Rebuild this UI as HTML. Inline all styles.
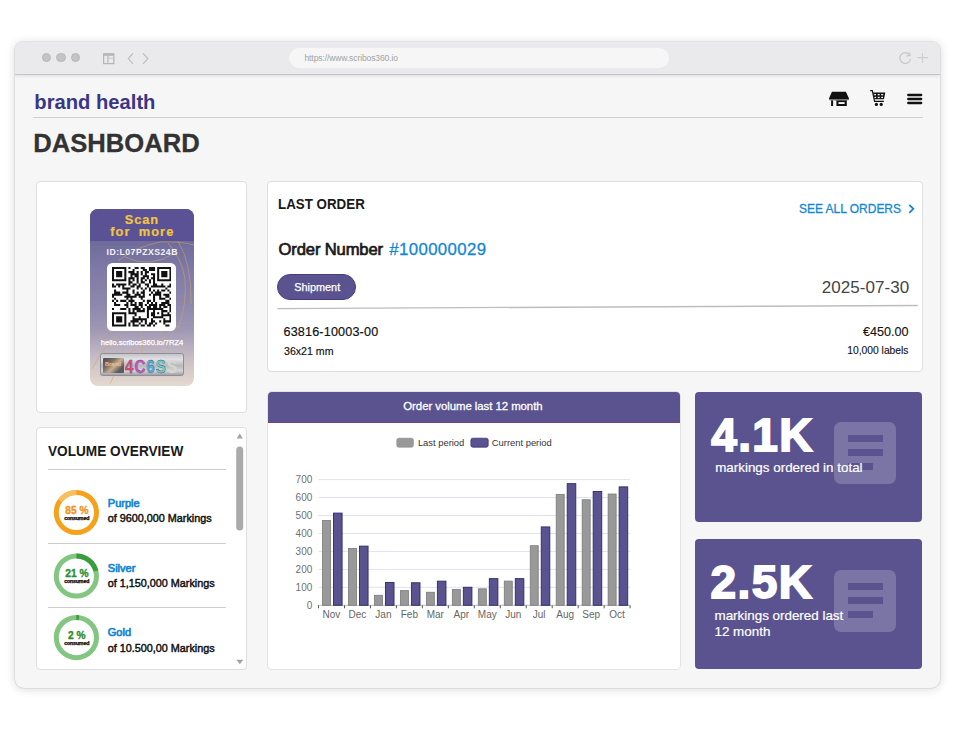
<!DOCTYPE html>
<html><head><meta charset="utf-8">
<style>
*{margin:0;padding:0;box-sizing:border-box}
html,body{width:955px;height:747px;overflow:hidden;background:#fff;font-family:"Liberation Sans",sans-serif}
.abs{position:absolute}
#win{position:absolute;left:15px;top:42px;width:925px;height:646px;border-radius:7px 7px 9px 9px;background:#f6f6f6;box-shadow:0 0 0 0.6px rgba(0,0,0,0.10),0 1px 10px rgba(0,0,0,0.17);overflow:hidden}
#bar{position:absolute;left:0;top:0;width:925px;height:33px;background:#eaeaec;border-bottom:1px solid #c6c6c8;box-shadow:0 1px 3px rgba(0,0,0,0.10)}
.dot{position:absolute;top:11px;width:9.4px;height:9.4px;border-radius:50%;background:#c3c3c3;border:0.6px solid #b8b8b8}
#url{position:absolute;left:273.7px;top:6px;width:380.5px;height:19.8px;border-radius:10px;background:#f6f6f7}
#url span{position:absolute;left:15.8px;top:4.6px;font-size:8.5px;color:#a3a3a3;letter-spacing:-0.1px}
.card{position:absolute;background:#fff;border:1px solid #dedede;border-radius:4px}
.t{position:absolute;white-space:nowrap;line-height:1}
.stat{position:absolute;background:#5b538f;border-radius:4px}
.ico{position:absolute;width:62px;height:62px;border-radius:7px;background:rgba(255,255,255,0.2)}
.ico i{position:absolute;left:14px;height:7px;background:#5b538f}
.big{position:absolute;font-weight:bold;color:#fff;font-size:46px;line-height:1;letter-spacing:1.4px;-webkit-text-stroke:1.8px #fff}
.sub{position:absolute;color:#fff;font-size:13.4px;line-height:16px;white-space:nowrap;-webkit-text-stroke:0.2px #fff}
</style></head><body>
<div id="win">
  <div id="bar">
    <div class="dot" style="left:26.5px"></div>
    <div class="dot" style="left:41.2px"></div>
    <div class="dot" style="left:55.9px"></div>
    <svg class="abs" style="left:87px;top:10px" width="13" height="13" viewBox="0 0 13 13"><rect x="1.6" y="1.8" width="10.2" height="9.8" fill="none" stroke="#b5b5b5" stroke-width="1.2"/><rect x="1.6" y="1.8" width="10.2" height="2" fill="#b5b5b5"/><line x1="5.9" y1="3.8" x2="5.9" y2="11.6" stroke="#b5b5b5" stroke-width="1.1"/><line x1="5.9" y1="6.2" x2="11.6" y2="6.2" stroke="#c5c5c5" stroke-width="0.8"/></svg>
    <svg class="abs" style="left:110px;top:10px" width="40" height="13" viewBox="0 0 40 13"><polyline points="8,1.4 3.3,6.6 8,11.8" fill="none" stroke="#bdbdbd" stroke-width="1.25"/><polyline points="18.1,1.4 22.8,6.6 18.1,11.8" fill="none" stroke="#bdbdbd" stroke-width="1.25"/></svg>
    <div id="url"><span>https://www.scribos360.io</span></div>
    <svg class="abs" style="left:883px;top:10px" width="32" height="13" viewBox="0 0 32 13"><path d="M11.4 2.6 A5.4 5.4 0 1 0 12.6 7" fill="none" stroke="#c6c6c6" stroke-width="1.2"/><polyline points="8.6,3.9 12,3.4 11.6,0.4" fill="none" stroke="#c6c6c6" stroke-width="1.2"/><line x1="24.5" y1="1" x2="24.5" y2="11" stroke="#cccccc" stroke-width="1.1"/><line x1="19.4" y1="5.6" x2="30" y2="5.6" stroke="#cccccc" stroke-width="1.1"/></svg>
  </div>
</div>

<!-- header -->
<div class="t" style="left:34.3px;top:91.7px;font-size:20.2px;font-weight:bold;color:#3b3683">brand health</div>
<div class="abs" style="left:33px;top:117px;width:890px;height:1px;background:#cfcfcf"></div>
<div class="t" style="left:33.3px;top:131.3px;font-size:25.6px;font-weight:bold;color:#333;-webkit-text-stroke:0.3px #333">DASHBOARD</div>

<!-- store icon -->
<svg class="abs" style="left:826px;top:88px" width="26" height="21" viewBox="826 88 26 21"><path d="M831.9 91.8 H845.9 L848.9 98.2 V99.6 H829.1 V98.2 Z" fill="#111"/><path d="M829.3 99.6 Q831.5 100.6 833.5 99.8 Q836 100.6 838.5 99.8 Q841 100.6 843.5 99.8 Q846 100.6 848.7 99.6" fill="none" stroke="#666" stroke-width="0.9"/><rect x="831.1" y="100.4" width="2" height="5.6" fill="#111"/><rect x="836.4" y="100.4" width="10.4" height="5.6" fill="#111"/><rect x="838.5" y="102.1" width="6.1" height="1.9" fill="#f6f6f6"/></svg>
<!-- cart icon -->
<svg class="abs" style="left:866px;top:86px" width="24" height="24" viewBox="866 86 24 24"><path d="M870.2 90.6 H872.3 L874.6 101.3 H883.9" fill="none" stroke="#111" stroke-width="1.2"/><path d="M873 92.6 H885.3 L884 99 H874.3 Z" fill="#111"/><g fill="#f6f6f6"><rect x="874.2" y="94" width="1.8" height="1.3"/><rect x="877.7" y="94" width="2" height="1.3"/><rect x="881.2" y="94" width="2" height="1.3"/><rect x="874.5" y="96.8" width="1.6" height="1.3"/><rect x="877.7" y="96.8" width="2" height="1.3"/><rect x="881.2" y="96.8" width="1.8" height="1.3"/></g><rect x="875.3" y="99" width="8.4" height="1.6" fill="#bbb"/><circle cx="876.4" cy="104.4" r="1.6" fill="#111"/><circle cx="881.2" cy="104.4" r="1.6" fill="#111"/></svg>
<!-- hamburger -->
<svg class="abs" style="left:907px;top:93px" width="16" height="12" viewBox="0 0 16 12"><g stroke="#111" stroke-width="2.3" stroke-linecap="round"><line x1="1.2" y1="2" x2="14.2" y2="2"/><line x1="1.2" y1="6" x2="14.2" y2="6"/><line x1="1.2" y1="10" x2="14.2" y2="10"/></g></svg>

<!-- QR card -->
<div class="card" style="left:35.6px;top:181.3px;width:211.6px;height:231.4px"></div>
<!--LABEL-->
<div class="abs" style="left:90.3px;top:209px;width:103.3px;height:176.6px;border-radius:8px;overflow:hidden;background:linear-gradient(180deg,#6d6899 0px,#706b9c 32px,#7f7aa5 60px,#8d88ad 95px,#9e97b4 120px,#b4abbd 135px,#cfc4c6 155px,#e4d9cf 176px)">
  <div class="abs" style="left:0;top:0;width:104px;height:31.5px;background:#5a5294"></div>
  <svg class="abs" style="left:0;top:0" width="104" height="177" viewBox="0 0 104 177"><g fill="none" stroke="#c9a867" stroke-width="0.8" opacity="0.7"><path d="M28 52 Q45 38 70 33 Q90 32 104 36"/><path d="M35 48 Q60 60 85 44"/><path d="M78 34 Q92 50 95 70 Q97 95 88 120"/><path d="M88 32 Q102 55 101 95"/><path d="M10 130 Q25 115 45 112 Q70 112 90 118"/><path d="M2 160 Q15 135 30 125"/><path d="M45 112 Q55 125 52 145"/><path d="M60 112 Q75 125 78 140"/><path d="M20 175 Q30 150 45 140"/></g></svg>
  <div class="t" style="left:0;width:103px;text-align:center;top:4.6px;font-size:12.8px;font-weight:bold;color:#f3c443;letter-spacing:0.9px;-webkit-text-stroke:0.2px #f3c443">Scan</div>
  <div class="t" style="left:0.5px;width:103px;text-align:center;top:16.8px;font-size:12.8px;font-weight:bold;color:#f3c443;letter-spacing:1.1px;word-spacing:3.5px;-webkit-text-stroke:0.2px #f3c443">for more</div>
  <div class="t" style="left:16.2px;top:39.2px;font-size:8.7px;font-weight:bold;color:#f4f2f7;letter-spacing:0.48px">ID:L07PZXS24B</div>
  <div class="abs" style="left:17.2px;top:53.5px;width:68.4px;height:68.3px;border-radius:5.5px;background:#fff"></div>
  <svg class="abs" style="left:21.7px;top:58.3px" width="59.5" height="59.5" viewBox="0 0 29 29"><path d="M0 0h7v1h-7zM8 0h1v1h-1zM11 0h2v1h-2zM14 0h2v1h-2zM18 0h3v1h-3zM22 0h7v1h-7zM0 1h1v1h-1zM6 1h1v1h-1zM10 1h1v1h-1zM15 1h2v1h-2zM18 1h3v1h-3zM22 1h1v1h-1zM28 1h1v1h-1zM0 2h1v1h-1zM2 2h3v1h-3zM6 2h1v1h-1zM8 2h3v1h-3zM12 2h1v1h-1zM14 2h1v1h-1zM16 2h2v1h-2zM22 2h1v1h-1zM24 2h3v1h-3zM28 2h1v1h-1zM0 3h1v1h-1zM2 3h3v1h-3zM6 3h1v1h-1zM9 3h4v1h-4zM14 3h1v1h-1zM16 3h1v1h-1zM19 3h2v1h-2zM22 3h1v1h-1zM24 3h3v1h-3zM28 3h1v1h-1zM0 4h1v1h-1zM2 4h3v1h-3zM6 4h1v1h-1zM9 4h1v1h-1zM11 4h2v1h-2zM15 4h3v1h-3zM20 4h1v1h-1zM22 4h1v1h-1zM24 4h3v1h-3zM28 4h1v1h-1zM0 5h1v1h-1zM6 5h1v1h-1zM8 5h3v1h-3zM12 5h1v1h-1zM14 5h2v1h-2zM17 5h1v1h-1zM19 5h2v1h-2zM22 5h1v1h-1zM28 5h1v1h-1zM0 6h7v1h-7zM8 6h1v1h-1zM10 6h1v1h-1zM12 6h1v1h-1zM14 6h1v1h-1zM16 6h1v1h-1zM18 6h1v1h-1zM20 6h1v1h-1zM22 6h7v1h-7zM8 7h2v1h-2zM12 7h1v1h-1zM14 7h2v1h-2zM18 7h1v1h-1zM20 7h1v1h-1zM0 8h1v1h-1zM2 8h5v1h-5zM8 8h1v1h-1zM10 8h2v1h-2zM13 8h1v1h-1zM16 8h2v1h-2zM20 8h2v1h-2zM24 8h1v1h-1zM28 8h1v1h-1zM0 9h2v1h-2zM3 9h1v1h-1zM5 9h1v1h-1zM9 9h2v1h-2zM12 9h2v1h-2zM17 9h1v1h-1zM19 9h7v1h-7zM27 9h2v1h-2zM5 10h4v1h-4zM12 10h1v1h-1zM14 10h1v1h-1zM16 10h1v1h-1zM18 10h1v1h-1zM26 10h1v1h-1zM1 11h1v1h-1zM7 11h1v1h-1zM10 11h1v1h-1zM15 11h1v1h-1zM18 11h1v1h-1zM20 11h1v1h-1zM22 11h1v1h-1zM24 11h2v1h-2zM27 11h1v1h-1zM1 12h3v1h-3zM5 12h3v1h-3zM10 12h1v1h-1zM12 12h1v1h-1zM14 12h2v1h-2zM19 12h1v1h-1zM21 12h3v1h-3zM28 12h1v1h-1zM0 13h5v1h-5zM7 13h2v1h-2zM11 13h3v1h-3zM15 13h1v1h-1zM18 13h1v1h-1zM20 13h4v1h-4zM25 13h3v1h-3zM0 14h1v1h-1zM6 14h6v1h-6zM13 14h3v1h-3zM20 14h1v1h-1zM23 14h1v1h-1zM26 14h2v1h-2zM1 15h1v1h-1zM7 15h1v1h-1zM9 15h1v1h-1zM14 15h1v1h-1zM20 15h1v1h-1zM23 15h3v1h-3zM28 15h1v1h-1zM0 16h1v1h-1zM2 16h1v1h-1zM4 16h3v1h-3zM8 16h3v1h-3zM15 16h1v1h-1zM17 16h2v1h-2zM20 16h1v1h-1zM26 16h2v1h-2zM1 17h1v1h-1zM7 17h1v1h-1zM9 17h1v1h-1zM11 17h1v1h-1zM13 17h2v1h-2zM17 17h1v1h-1zM19 17h1v1h-1zM21 17h1v1h-1zM24 17h4v1h-4zM1 18h3v1h-3zM6 18h2v1h-2zM9 18h3v1h-3zM13 18h2v1h-2zM16 18h1v1h-1zM18 18h4v1h-4zM23 18h3v1h-3zM27 18h2v1h-2zM7 19h1v1h-1zM11 19h2v1h-2zM14 19h1v1h-1zM17 19h2v1h-2zM20 19h2v1h-2zM23 19h1v1h-1zM25 19h2v1h-2zM28 19h1v1h-1zM0 20h1v1h-1zM4 20h3v1h-3zM8 20h1v1h-1zM10 20h4v1h-4zM15 20h1v1h-1zM17 20h8v1h-8zM28 20h1v1h-1zM8 21h1v1h-1zM10 21h1v1h-1zM12 21h4v1h-4zM17 21h1v1h-1zM20 21h1v1h-1zM24 21h3v1h-3zM28 21h1v1h-1zM0 22h7v1h-7zM8 22h4v1h-4zM17 22h1v1h-1zM19 22h2v1h-2zM22 22h1v1h-1zM24 22h1v1h-1zM27 22h1v1h-1zM0 23h1v1h-1zM6 23h1v1h-1zM11 23h1v1h-1zM17 23h1v1h-1zM19 23h2v1h-2zM24 23h5v1h-5zM0 24h1v1h-1zM2 24h3v1h-3zM6 24h1v1h-1zM10 24h1v1h-1zM13 24h1v1h-1zM17 24h1v1h-1zM20 24h5v1h-5zM28 24h1v1h-1zM0 25h1v1h-1zM2 25h3v1h-3zM6 25h1v1h-1zM10 25h7v1h-7zM19 25h1v1h-1zM25 25h1v1h-1zM28 25h1v1h-1zM0 26h1v1h-1zM2 26h3v1h-3zM6 26h1v1h-1zM9 26h4v1h-4zM14 26h1v1h-1zM16 26h1v1h-1zM19 26h2v1h-2zM23 26h1v1h-1zM25 26h4v1h-4zM0 27h1v1h-1zM6 27h1v1h-1zM8 27h1v1h-1zM10 27h1v1h-1zM13 27h1v1h-1zM16 27h1v1h-1zM18 27h2v1h-2zM21 27h1v1h-1zM25 27h1v1h-1zM0 28h7v1h-7zM8 28h1v1h-1zM10 28h3v1h-3zM14 28h2v1h-2zM17 28h2v1h-2zM20 28h1v1h-1zM26 28h2v1h-2z" fill="#111"/></svg>
  <div class="t" style="left:10.5px;top:129.8px;font-size:7.6px;color:#fff;letter-spacing:-0.05px;-webkit-text-stroke:0.25px #fff">hello.scribos360.io/7RZ4</div>
  <div class="abs" style="left:9.7px;top:144.4px;width:83.6px;height:23px;border-radius:2.5px;background:linear-gradient(180deg,#c4c4c8 0%,#e2e2e6 25%,#b8b8be 55%,#d4d4d8 80%,#a0a0a6 100%);border:1px solid #8e8e94">
    <div class="abs" style="left:1.8px;top:3.5px;width:21px;height:15px;background:linear-gradient(135deg,#4a4a50,#7a7068 35%,#c8ae90 55%,#5a5a60 80%);border-radius:1px"></div>
    <div class="t" style="left:4px;top:8px;font-size:5.5px;font-weight:bold;color:#f2c08e">Brand</div>
    <div class="t" style="left:23.8px;top:2.3px;font-size:19px;font-weight:bold;letter-spacing:1.2px;-webkit-text-stroke:0.4px #555;transform:scaleX(0.8);transform-origin:0 0"><span style="color:#ee4a80">4</span><span style="color:#d24fd0">C</span><span style="color:#4fb2ea">6</span><span style="color:#60d2d4">S</span><span style="color:#d2d8cc;-webkit-text-stroke:0">S</span></div>
  </div>
</div>
<!--/LABEL-->

<!-- Order card -->
<div class="card" style="left:266.8px;top:181.2px;width:656.6px;height:190.5px"></div>
<div class="t" style="left:278.4px;top:196.1px;font-size:15px;font-weight:bold;color:#1a1a1a;transform:scaleX(0.89);transform-origin:0 0">LAST ORDER</div>
<div class="t" style="left:799px;top:202.4px;font-size:13.3px;color:#1386d6;letter-spacing:0;-webkit-text-stroke:0.3px #1386d6;transform:scaleX(0.9);transform-origin:0 0">SEE ALL ORDERS</div>
<svg class="abs" style="left:907.5px;top:203.5px" width="7" height="10" viewBox="0 0 7 10"><polyline points="1.3,0.8 5.3,4.8 1.3,8.8" fill="none" stroke="#1a88d2" stroke-width="1.9"/></svg>
<div class="t" style="left:278.6px;top:241.9px;font-size:16.6px;color:#1a1a1a;-webkit-text-stroke:0.7px #1a1a1a;letter-spacing:-0.15px">Order Number</div><div class="t" style="left:389.3px;top:241.8px;font-size:16.8px;color:#1386d6;letter-spacing:0.38px;-webkit-text-stroke:0.3px #1386d6">#100000029</div>
<div class="abs" style="left:277.3px;top:274.2px;width:78.8px;height:25.8px;border-radius:13px;background:#5b538f;border:1px solid #463c86"></div>
<div class="t" style="left:294.2px;top:282.2px;font-size:10.9px;color:#fff;-webkit-text-stroke:0.25px #fff">Shipment</div>
<div class="t" style="left:821.8px;top:279px;font-size:17px;color:#444;letter-spacing:0.05px">2025-07-30</div>
<svg class="abs" style="left:270px;top:300px" width="655" height="14" viewBox="270 300 655 14"><line x1="277.2" y1="308.6" x2="917.8" y2="305.5" stroke="#bdbdbd" stroke-width="1.3"/></svg>
<div class="t" style="left:283.5px;top:326px;font-size:12.6px;color:#111;letter-spacing:0.17px;-webkit-text-stroke:0.18px #111">63816-10003-00</div>
<div class="t" style="left:284px;top:345.5px;font-size:10.6px;color:#111;-webkit-text-stroke:0.15px #111">36x21 mm</div>
<div class="t" style="right:46.5px;top:326px;font-size:12.6px;color:#111;-webkit-text-stroke:0.12px #111">€450.00</div>
<div class="t" style="right:46.5px;top:346px;font-size:10.3px;color:#111;-webkit-text-stroke:0.12px #111">10,000 labels</div>

<!-- Volume card -->
<div class="card" style="left:35.8px;top:426.8px;width:211.6px;height:243px"></div>
<div class="t" style="left:48.2px;top:444px;font-size:14.5px;font-weight:bold;color:#1a1a1a;transform:scaleX(0.94);transform-origin:0 0">VOLUME OVERVIEW</div>
<div class="abs" style="left:48px;top:468.5px;width:178px;height:1px;background:#cdcdcd"></div>
<div class="abs" style="left:48px;top:543px;width:178px;height:1px;background:#cdcdcd"></div>
<div class="abs" style="left:48px;top:606.5px;width:178px;height:1px;background:#cdcdcd"></div>
<!--VOL-->
<svg class="abs" style="left:36px;top:427px" width="212" height="243" viewBox="36 427 212 243">
<circle cx="76.4" cy="512.5" r="20.1" fill="none" stroke="#f6a11a" stroke-width="5.0"/>
<path d="M60.14 500.69 A20.1 20.1 0 0 1 76.40 492.40" fill="none" stroke="#f9bf5e" stroke-width="5.0"/>
<text x="76.9" y="513.8" font-size="10.2" font-weight="bold" fill="#f0931a" stroke="#f0931a" stroke-width="0.35" text-anchor="middle">85 %</text>
<text x="76.7" y="519.7" font-size="5.35" font-weight="bold" fill="#000" stroke="#000" stroke-width="0.25" text-anchor="middle" letter-spacing="-0.2">consumed</text>
<text x="107.8" y="507.0" font-size="11" fill="#1386d6" stroke="#1386d6" stroke-width="0.7">Purple</text>
<text x="107.8" y="522.4" font-size="10.8" fill="#111" stroke="#111" stroke-width="0.45">of 9600,000 Markings</text>
<circle cx="76.4" cy="576.0" r="20.1" fill="none" stroke="#82c682" stroke-width="5.0"/>
<path d="M76.4 555.9 A20.1 20.1 0 0 1 95.87 571.00" fill="none" stroke="#3a9c3a" stroke-width="5.0"/>
<text x="76.9" y="577.3" font-size="10.2" font-weight="bold" fill="#2e8f2e" stroke="#2e8f2e" stroke-width="0.35" text-anchor="middle">21 %</text>
<text x="76.7" y="583.2" font-size="5.35" font-weight="bold" fill="#000" stroke="#000" stroke-width="0.25" text-anchor="middle" letter-spacing="-0.2">consumed</text>
<text x="107.8" y="571.5999999999999" font-size="11" fill="#1386d6" stroke="#1386d6" stroke-width="0.7">Silver</text>
<text x="107.8" y="587.1" font-size="10.8" fill="#111" stroke="#111" stroke-width="0.45">of 1,150,000 Markings</text>
<circle cx="76.4" cy="637.6" r="20.1" fill="none" stroke="#82c682" stroke-width="5.0"/>
<path d="M76.4 617.5 A20.1 20.1 0 0 1 78.92 617.66" fill="none" stroke="#3a9c3a" stroke-width="5.0"/>
<text x="76.9" y="638.9" font-size="10.2" font-weight="bold" fill="#2e8f2e" stroke="#2e8f2e" stroke-width="0.35" text-anchor="middle">2 %</text>
<text x="76.7" y="644.8000000000001" font-size="5.35" font-weight="bold" fill="#000" stroke="#000" stroke-width="0.25" text-anchor="middle" letter-spacing="-0.2">consumed</text>
<text x="107.8" y="636.4" font-size="11" fill="#1386d6" stroke="#1386d6" stroke-width="0.7">Gold</text>
<text x="107.8" y="651.9" font-size="10.8" fill="#111" stroke="#111" stroke-width="0.45">of 10.500,00 Markings</text>
<path d="M236.7 438.6 L239.75 433.6 L242.8 438.6 Z" fill="#a3a3a3"/>
<rect x="236.2" y="446.5" width="7" height="84" rx="3.5" fill="#ababab"/>
<path d="M236.4 659.8 L243.3 659.8 L239.85 664.3 Z" fill="#a3a3a3"/>
</svg>
<!--/VOL-->

<!-- Chart card -->
<div class="card" style="left:268px;top:392px;width:412px;height:276.5px;overflow:hidden;border:none;box-shadow:0 0 0 1px #e3e3e3">
  <div class="abs" style="left:0;top:0;width:412px;height:30.6px;background:#5b538f;border-bottom:1px solid #7a3f7e"></div>
</div>
<div class="t" style="left:403.3px;top:400.6px;font-size:11.4px;color:#fff;letter-spacing:-0.05px;-webkit-text-stroke:0.3px #fff">Order volume last 12 month</div>
<!--CHART-->
<svg class="abs" style="left:268px;top:392px" width="412" height="277" viewBox="268 392 412 277">
<line x1="318.5" y1="587.34" x2="630.1" y2="587.34" stroke="#dfe3ee" stroke-width="1"/>
<line x1="318.5" y1="569.39" x2="630.1" y2="569.39" stroke="#dfe3ee" stroke-width="1"/>
<line x1="318.5" y1="551.43" x2="630.1" y2="551.43" stroke="#dfe3ee" stroke-width="1"/>
<line x1="318.5" y1="533.47" x2="630.1" y2="533.47" stroke="#dfe3ee" stroke-width="1"/>
<line x1="318.5" y1="515.51" x2="630.1" y2="515.51" stroke="#dfe3ee" stroke-width="1"/>
<line x1="318.5" y1="497.56" x2="630.1" y2="497.56" stroke="#dfe3ee" stroke-width="1"/>
<line x1="318.5" y1="479.60" x2="630.1" y2="479.60" stroke="#dfe3ee" stroke-width="1"/>
<line x1="318.5" y1="605.3" x2="630.1" y2="605.3" stroke="#b9b9c0" stroke-width="1"/>
<line x1="318.50" y1="605.3" x2="318.50" y2="608.3" stroke="#555" stroke-width="1"/>
<line x1="344.47" y1="605.3" x2="344.47" y2="608.3" stroke="#555" stroke-width="1"/>
<line x1="370.43" y1="605.3" x2="370.43" y2="608.3" stroke="#555" stroke-width="1"/>
<line x1="396.40" y1="605.3" x2="396.40" y2="608.3" stroke="#555" stroke-width="1"/>
<line x1="422.37" y1="605.3" x2="422.37" y2="608.3" stroke="#555" stroke-width="1"/>
<line x1="448.33" y1="605.3" x2="448.33" y2="608.3" stroke="#555" stroke-width="1"/>
<line x1="474.30" y1="605.3" x2="474.30" y2="608.3" stroke="#555" stroke-width="1"/>
<line x1="500.27" y1="605.3" x2="500.27" y2="608.3" stroke="#555" stroke-width="1"/>
<line x1="526.23" y1="605.3" x2="526.23" y2="608.3" stroke="#555" stroke-width="1"/>
<line x1="552.20" y1="605.3" x2="552.20" y2="608.3" stroke="#555" stroke-width="1"/>
<line x1="578.17" y1="605.3" x2="578.17" y2="608.3" stroke="#555" stroke-width="1"/>
<line x1="604.13" y1="605.3" x2="604.13" y2="608.3" stroke="#555" stroke-width="1"/>
<line x1="630.10" y1="605.3" x2="630.10" y2="608.3" stroke="#555" stroke-width="1"/>
<rect x="322.50" y="520.58" width="8" height="84.72" fill="#999" stroke="#7a7a7a" stroke-width="0.8"/>
<rect x="333.50" y="513.09" width="8.6" height="92.21" fill="#5b538f" stroke="#2e2870" stroke-width="0.9"/>
<text x="331.48" y="617.6" font-size="10" fill="#666" text-anchor="middle">Nov</text>
<rect x="348.47" y="548.42" width="8" height="56.88" fill="#999" stroke="#7a7a7a" stroke-width="0.8"/>
<rect x="359.47" y="546.13" width="8.6" height="59.17" fill="#5b538f" stroke="#2e2870" stroke-width="0.9"/>
<text x="357.45" y="617.6" font-size="10" fill="#666" text-anchor="middle">Dec</text>
<rect x="374.43" y="595.28" width="8" height="10.02" fill="#999" stroke="#7a7a7a" stroke-width="0.8"/>
<rect x="385.43" y="582.41" width="8.6" height="22.89" fill="#5b538f" stroke="#2e2870" stroke-width="0.9"/>
<text x="383.42" y="617.6" font-size="10" fill="#666" text-anchor="middle">Jan</text>
<rect x="400.40" y="590.62" width="8" height="14.68" fill="#999" stroke="#7a7a7a" stroke-width="0.8"/>
<rect x="411.40" y="582.76" width="8.6" height="22.54" fill="#5b538f" stroke="#2e2870" stroke-width="0.9"/>
<text x="409.38" y="617.6" font-size="10" fill="#666" text-anchor="middle">Feb</text>
<rect x="426.37" y="592.23" width="8" height="13.07" fill="#999" stroke="#7a7a7a" stroke-width="0.8"/>
<rect x="437.37" y="581.15" width="8.6" height="24.15" fill="#5b538f" stroke="#2e2870" stroke-width="0.9"/>
<text x="435.35" y="617.6" font-size="10" fill="#666" text-anchor="middle">Mar</text>
<rect x="452.33" y="589.54" width="8" height="15.76" fill="#999" stroke="#7a7a7a" stroke-width="0.8"/>
<rect x="463.33" y="587.25" width="8.6" height="18.05" fill="#5b538f" stroke="#2e2870" stroke-width="0.9"/>
<text x="461.32" y="617.6" font-size="10" fill="#666" text-anchor="middle">Apr</text>
<rect x="478.30" y="588.82" width="8" height="16.48" fill="#999" stroke="#7a7a7a" stroke-width="0.8"/>
<rect x="489.30" y="578.63" width="8.6" height="26.67" fill="#5b538f" stroke="#2e2870" stroke-width="0.9"/>
<text x="487.28" y="617.6" font-size="10" fill="#666" text-anchor="middle">May</text>
<rect x="504.27" y="581.10" width="8" height="24.20" fill="#999" stroke="#7a7a7a" stroke-width="0.8"/>
<rect x="515.27" y="578.63" width="8.6" height="26.67" fill="#5b538f" stroke="#2e2870" stroke-width="0.9"/>
<text x="513.25" y="617.6" font-size="10" fill="#666" text-anchor="middle">Jun</text>
<rect x="530.23" y="545.72" width="8" height="59.58" fill="#999" stroke="#7a7a7a" stroke-width="0.8"/>
<rect x="541.23" y="526.92" width="8.6" height="78.38" fill="#5b538f" stroke="#2e2870" stroke-width="0.9"/>
<text x="539.22" y="617.6" font-size="10" fill="#666" text-anchor="middle">Jul</text>
<rect x="556.20" y="494.37" width="8" height="110.93" fill="#999" stroke="#7a7a7a" stroke-width="0.8"/>
<rect x="567.20" y="483.64" width="8.6" height="121.66" fill="#5b538f" stroke="#2e2870" stroke-width="0.9"/>
<text x="565.18" y="617.6" font-size="10" fill="#666" text-anchor="middle">Aug</text>
<rect x="582.17" y="499.75" width="8" height="105.55" fill="#999" stroke="#7a7a7a" stroke-width="0.8"/>
<rect x="593.17" y="491.54" width="8.6" height="113.76" fill="#5b538f" stroke="#2e2870" stroke-width="0.9"/>
<text x="591.15" y="617.6" font-size="10" fill="#666" text-anchor="middle">Sep</text>
<rect x="608.13" y="494.01" width="8" height="111.29" fill="#999" stroke="#7a7a7a" stroke-width="0.8"/>
<rect x="619.13" y="486.87" width="8.6" height="118.43" fill="#5b538f" stroke="#2e2870" stroke-width="0.9"/>
<text x="617.12" y="617.6" font-size="10" fill="#666" text-anchor="middle">Oct</text>
<text x="312.3" y="608.90" font-size="10" fill="#707070" text-anchor="end">0</text>
<text x="312.3" y="590.94" font-size="10" fill="#707070" text-anchor="end">100</text>
<text x="312.3" y="572.99" font-size="10" fill="#707070" text-anchor="end">200</text>
<text x="312.3" y="555.03" font-size="10" fill="#707070" text-anchor="end">300</text>
<text x="312.3" y="537.07" font-size="10" fill="#707070" text-anchor="end">400</text>
<text x="312.3" y="519.11" font-size="10" fill="#707070" text-anchor="end">500</text>
<text x="312.3" y="501.16" font-size="10" fill="#707070" text-anchor="end">600</text>
<text x="312.3" y="483.20" font-size="10" fill="#707070" text-anchor="end">700</text>
<rect x="396.8" y="438.2" width="16.6" height="9" rx="2" fill="#999" stroke="#888" stroke-width="0.6"/>
<text x="417.9" y="446" font-size="9.4" fill="#333">Last period</text>
<rect x="470.9" y="438.2" width="17.3" height="9" rx="2" fill="#5b538f" stroke="#2e2870" stroke-width="0.7"/>
<text x="491.8" y="446" font-size="9.4" fill="#333">Current period</text>
</svg>
<!--/CHART-->

<!-- Stat cards -->
<div class="stat" style="left:695.2px;top:392.2px;width:226.6px;height:129.8px">
  <div class="ico" style="left:139px;top:30px"><i style="top:13px;width:35px"></i><i style="top:27px;width:35px"></i><i style="top:41px;width:25px"></i></div>
  <div class="big" style="left:16px;top:20px">4.1K</div>
  <div class="sub" style="left:20px;top:68.2px">markings ordered in total</div>
</div>
<div class="stat" style="left:695px;top:539.2px;width:226.8px;height:129.8px">
  <div class="ico" style="left:139px;top:30.5px"><i style="top:13px;width:35px"></i><i style="top:27px;width:35px"></i><i style="top:41px;width:25px"></i></div>
  <div class="big" style="left:15.5px;top:20px">2.5K</div>
  <div class="sub" style="left:19.5px;top:68.6px">markings ordered last<br>12 month</div>
</div>
</body></html>
